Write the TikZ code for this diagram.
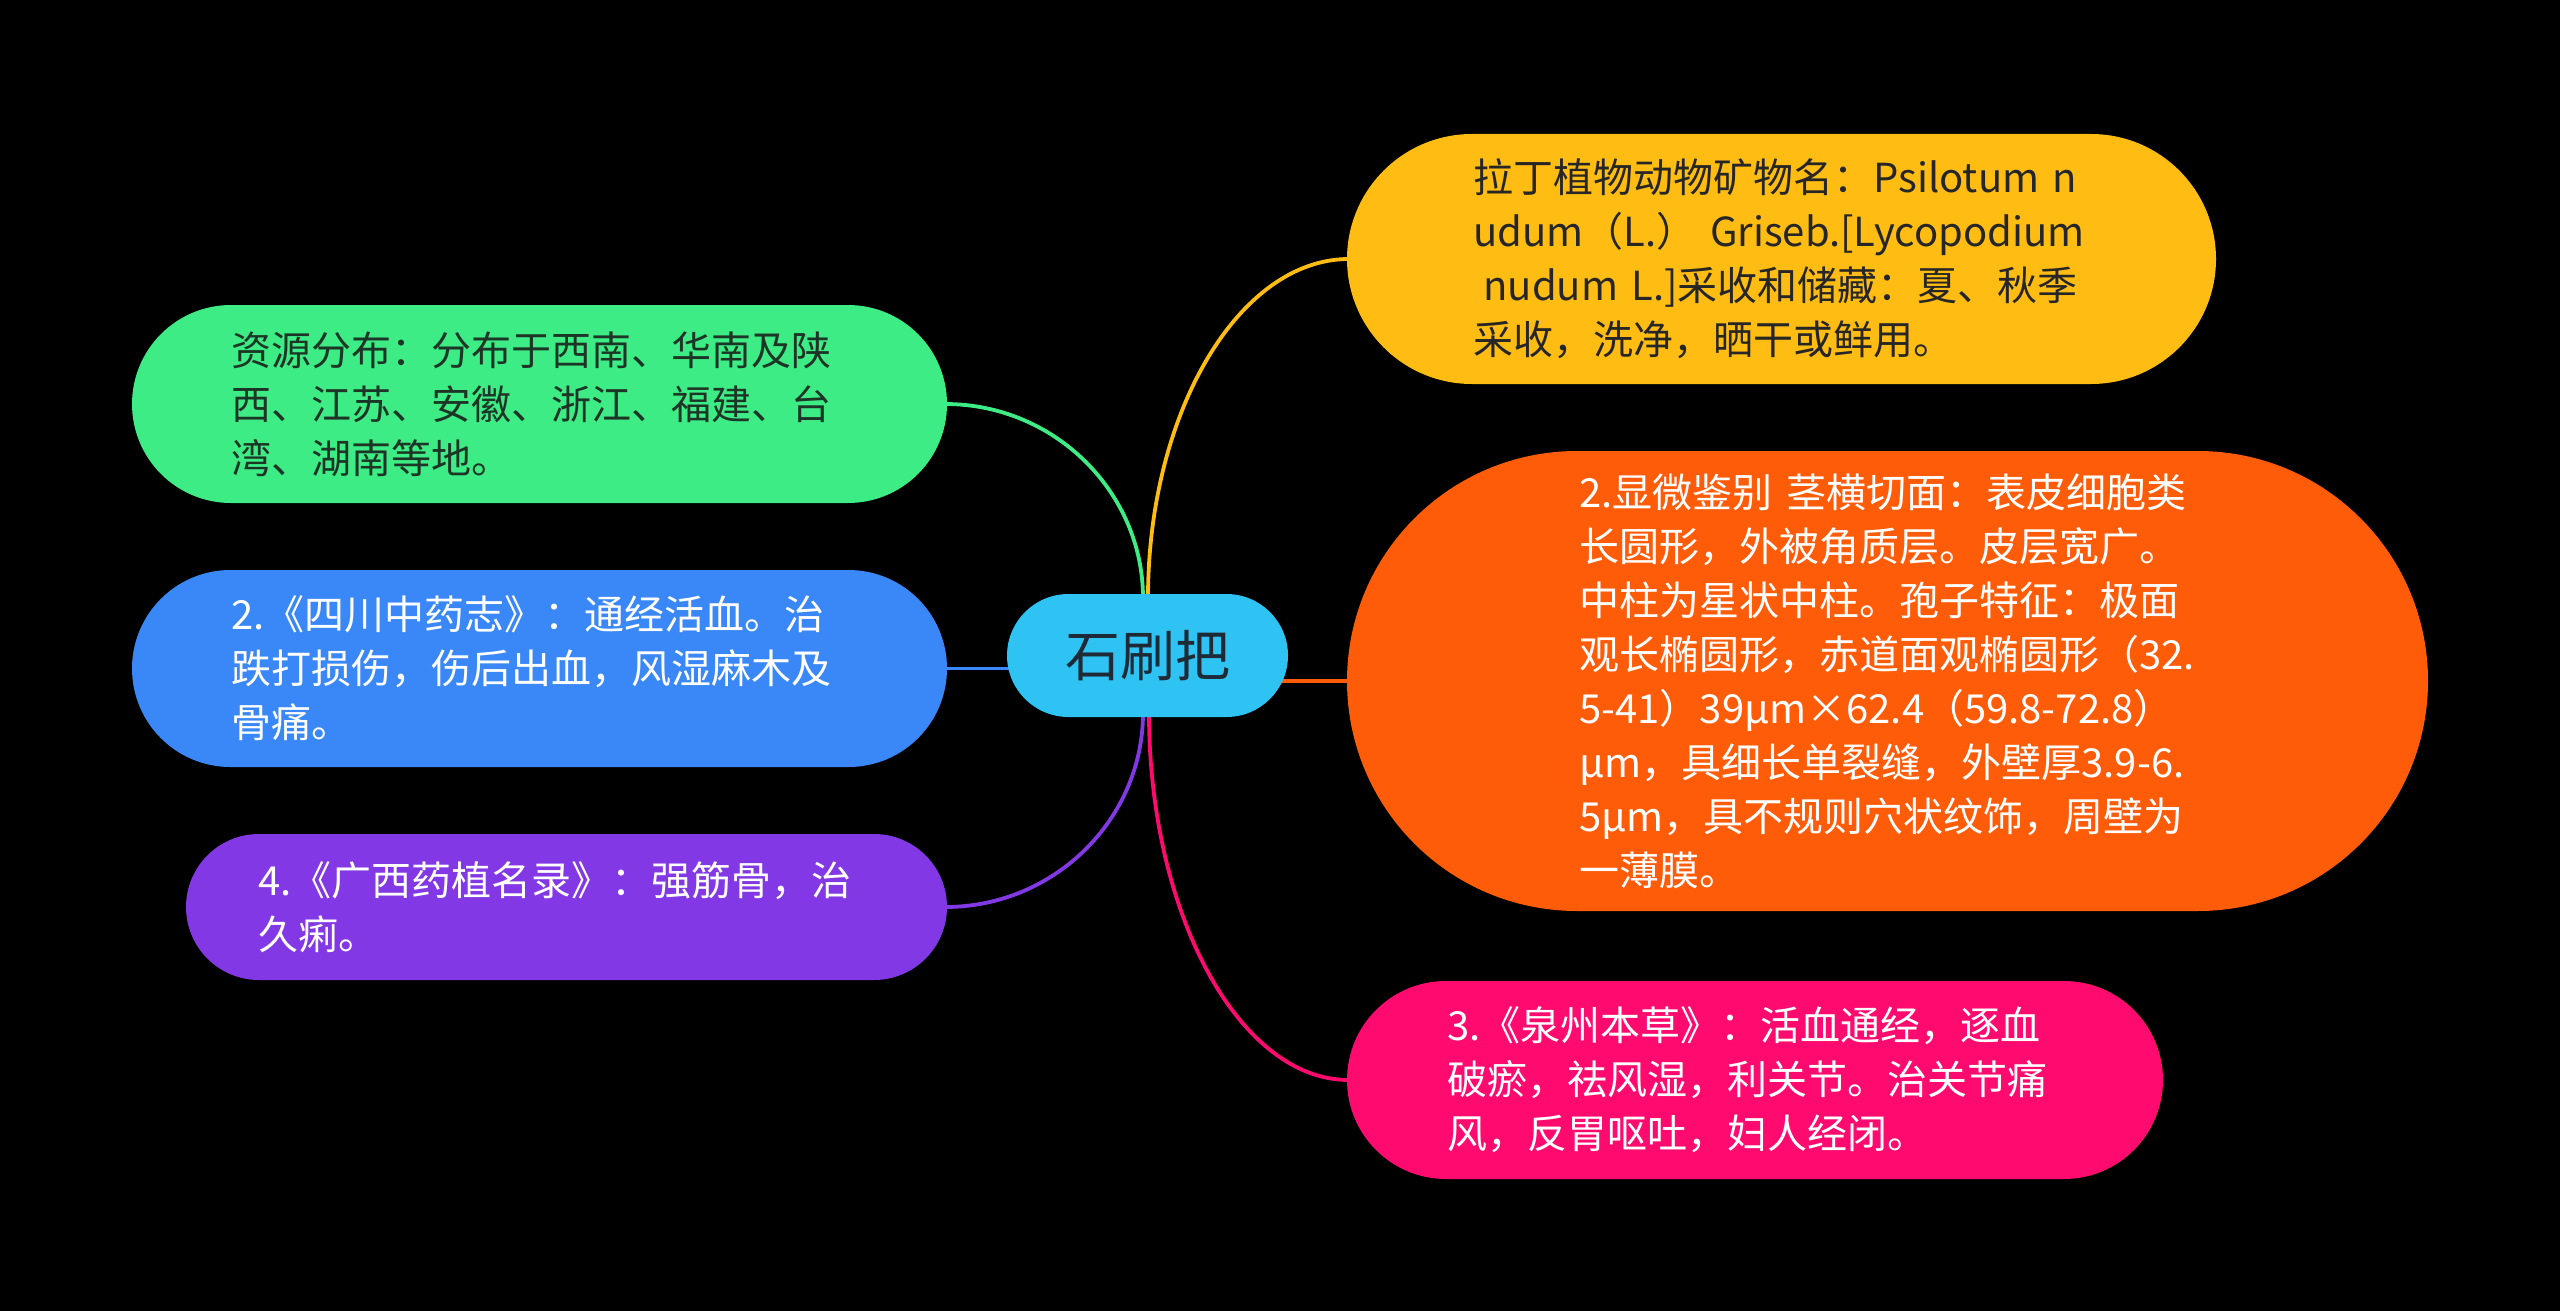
\documentclass[tikz,border=0pt]{standalone}
\usepackage{fontspec}
\setmainfont{Noto Sans CJK SC}
\usetikzlibrary{calc}
\pgfdeclarelayer{bg}
\pgfsetlayers{bg,main}
\definecolor{cCentral}{HTML}{2EC3F3}
\definecolor{cYellow}{HTML}{FFBD14}
\definecolor{cOrange}{HTML}{FF5C0A}
\definecolor{cPink}{HTML}{FF0A6E}
\definecolor{cGreen}{HTML}{3DEC84}
\definecolor{cBlue}{HTML}{3A88F8}
\definecolor{cPurple}{HTML}{8338E6}
\definecolor{cDarkText}{HTML}{262626}
\definecolor{cGreenText}{HTML}{1D3526}
\definecolor{cCentralText}{HTML}{1E2B37}
\tikzset{
  pill/.style={rectangle, rounded corners=#1, inner sep=0pt, align=left,
    text width=616pt, font=\fontsize{40}{54}\selectfont},
  link/.style={line width=3.8pt},
}
\begin{document}
\begin{tikzpicture}[x=1pt,y=-1pt]
\begin{pgfonlayer}{bg}
\fill[black] (0,0) rectangle (2560,1311);
\end{pgfonlayer}
\useasboundingbox (0,0) rectangle (2560,1311);

\node[rectangle, rounded corners=61.5pt, inner sep=0pt, fill=cCentral, text=cCentralText, minimum width=281pt, minimum height=123pt,
  font=\fontsize{55}{60}\selectfont] (c) at (1147.5,655.5) {石刷把};

\node[pill=125pt, fill=cYellow, text=cDarkText, minimum width=869pt, minimum height=250pt]
  (ye) at (1781.5,259) {拉丁植物动物矿物名：Psilotum n\\udum（L.） Griseb.[Lycopodium\\\hspace{0.25em}nudum L.]采收和储藏：夏、秋季\\采收，洗净，晒干或鲜用。};

\node[pill=230pt, fill=cOrange, text=white, minimum width=1081pt, minimum height=460pt]
  (or) at (1887.5,681) {2.显微鉴别 茎横切面：表皮细胞类\\长圆形，外被角质层。皮层宽广。\\中柱为星状中柱。孢子特征：极面\\观长椭圆形，赤道面观椭圆形（32.\\5-41）39μm×62.4（59.8-72.8）\\μm，具细长单裂缝，外壁厚3.9-6.\\5μm，具不规则穴状纹饰，周壁为\\一薄膜。};

\node[pill=99pt, fill=cPink, text=white, minimum width=816pt, minimum height=198pt]
  (pk) at (1755,1080) {3.《泉州本草》：活血通经，逐血\\破瘀，祛风湿，利关节。治关节痛\\风，反胃呕吐，妇人经闭。};

\node[pill=99pt, fill=cGreen, text=cGreenText, minimum width=815pt, minimum height=198pt]
  (gr) at (539.5,404) {资源分布：分布于西南、华南及陕\\西、江苏、安徽、浙江、福建、台\\湾、湖南等地。};

\node[pill=98.5pt, fill=cBlue, text=white, minimum width=815pt, minimum height=197pt]
  (bl) at (539.5,668.5) {2.《四川中药志》：通经活血。治\\跌打损伤，伤后出血，风湿麻木及\\骨痛。};

\node[pill=73pt, fill=cPurple, text=white, minimum width=761pt, minimum height=146pt]
  (pu) at (566.5,907) {4.《广西药植名录》：强筋骨，治\\久痢。};

\begin{pgfonlayer}{bg}
\draw[link, cGreen] ([xshift=-2pt]gr.east) .. controls +(110,0) and +(0,-105) .. ([xshift=-4.5pt,yshift=-4pt]c.north);
\draw[link, cYellow] ([xshift=2pt]ye.west) .. controls +(-110,0) and +(0,-185) .. ([xshift=0.5pt,yshift=-4pt]c.north);
\draw[link, cBlue] ([xshift=-2pt]bl.east) -- ([xshift=20pt]bl.east -| c.west);
\draw[link, cOrange] ([xshift=-20pt]c.east |- or.west) -- ([xshift=2pt]or.west);
\draw[link, cPurple] ([xshift=-2pt]pu.east) .. controls +(110,0) and +(0,105) .. ([xshift=-4.5pt,yshift=4pt]c.south);
\draw[link, cPink] ([xshift=2pt]pk.west) .. controls +(-110,0) and +(0,200) .. ([xshift=1.5pt,yshift=4pt]c.south);
\end{pgfonlayer}
\end{tikzpicture}
\end{document}
